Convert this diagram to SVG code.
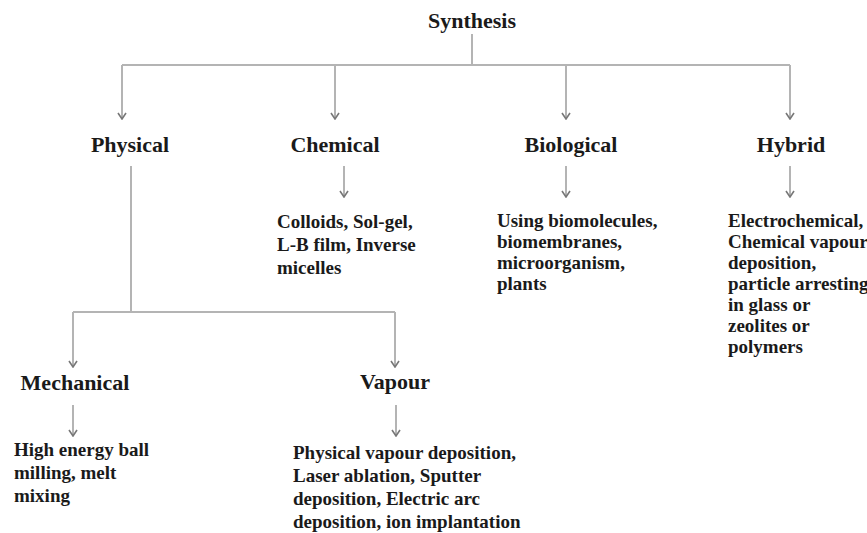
<svg xmlns="http://www.w3.org/2000/svg" width="867" height="533" viewBox="0 0 867 533">
<defs>
<marker id="ah" markerWidth="8" markerHeight="10" refX="7" refY="5" orient="auto" markerUnits="userSpaceOnUse" viewBox="0 0 8 10">
<path d="M1,1 L7,5 L1,9" fill="none" stroke="#777" stroke-width="1.6"/>
</marker>
<style>
.ln{fill:none;stroke:#b4b4b4;stroke-width:2}
.ar{marker-end:url(#ah)}
.h{font-family:"Liberation Serif","Times New Roman",serif;font-size:22px;font-weight:bold;fill:#1a1a1a;text-anchor:middle}
.b{font-family:"Liberation Serif","Times New Roman",serif;font-size:19px;font-weight:bold;fill:#1a1a1a}
</style>
</defs>
<rect width="867" height="533" fill="#fff"/>
<g id="connectors">
<path class="ln" d="M472,34 V65 M122,65 H790"/>
<path class="ln ar" d="M122,65 V119"/>
<path class="ln ar" d="M335,65 V119"/>
<path class="ln ar" d="M566,65 V119"/>
<path class="ln ar" d="M790,65 V119"/>
<path class="ln ar" d="M344,166 V197"/>
<path class="ln ar" d="M566,166 V197"/>
<path class="ln ar" d="M790,166 V197"/>
<path class="ln" d="M131,166 V312 M73,312 H395"/>
<path class="ln ar" d="M73,312 V367"/>
<path class="ln ar" d="M395,312 V367"/>
<path class="ln ar" d="M73,405 V436"/>
<path class="ln ar" d="M396,405 V436"/>
</g>
<g id="synthesis"><text class="h" x="472" y="28">Synthesis</text></g>
<g id="physical"><text class="h" x="130" y="152">Physical</text></g>
<g id="chemical"><text class="h" x="335" y="152">Chemical</text></g>
<g id="biological"><text class="h" x="571" y="152">Biological</text></g>
<g id="hybrid"><text class="h" x="791" y="152">Hybrid</text></g>
<g id="chemical-methods"><text class="b" x="277" y="228">Colloids, Sol-gel,<tspan x="277" dy="23">L-B film, Inverse</tspan><tspan x="277" dy="23">micelles</tspan></text></g>
<g id="biological-methods"><text class="b" x="497" y="227">Using biomolecules,<tspan x="497" dy="21">biomembranes,</tspan><tspan x="497" dy="21">microorganism,</tspan><tspan x="497" dy="21">plants</tspan></text></g>
<g id="hybrid-methods"><text class="b" x="728" y="227">Electrochemical,<tspan x="728" dy="21">Chemical vapour</tspan><tspan x="728" dy="21">deposition,</tspan><tspan x="728" dy="21">particle arresting</tspan><tspan x="728" dy="21">in glass or</tspan><tspan x="728" dy="21">zeolites or</tspan><tspan x="728" dy="21">polymers</tspan></text></g>
<g id="mechanical"><text class="h" x="75" y="390">Mechanical</text></g>
<g id="vapour"><text class="h" x="395" y="389">Vapour</text></g>
<g id="mechanical-methods"><text class="b" x="14" y="456">High energy ball<tspan x="14" dy="23">milling, melt</tspan><tspan x="14" dy="23">mixing</tspan></text></g>
<g id="vapour-methods"><text class="b" x="293" y="459">Physical vapour deposition,<tspan x="293" dy="23">Laser ablation, Sputter</tspan><tspan x="293" dy="23">deposition, Electric arc</tspan><tspan x="293" dy="23">deposition, ion implantation</tspan></text></g>
</svg>
